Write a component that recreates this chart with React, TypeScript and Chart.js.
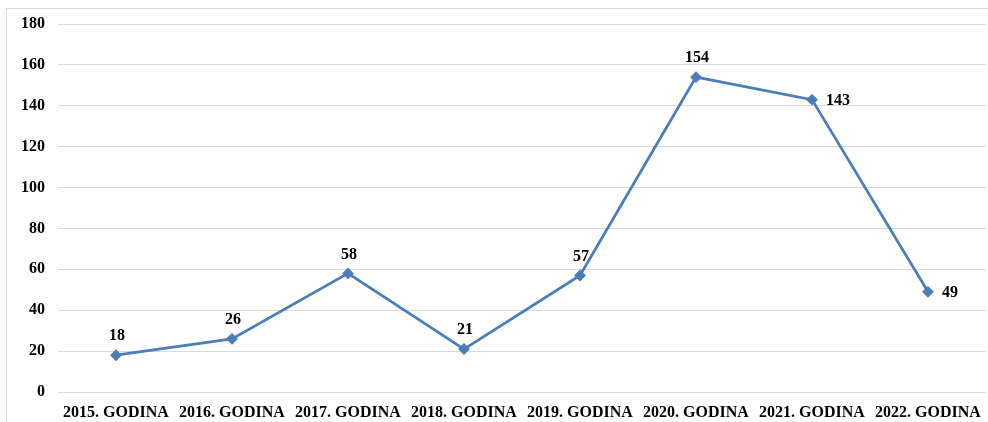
import React, { useEffect, useRef } from "react";
import { Chart, registerables } from "chart.js";

Chart.register(...registerables);

const categories = [
  "2015. GODINA",
  "2016. GODINA",
  "2017. GODINA",
  "2018. GODINA",
  "2019. GODINA",
  "2020. GODINA",
  "2021. GODINA",
  "2022. GODINA",
];
const values = [18, 26, 58, 21, 57, 154, 143, 49];
const labelSides = ["top", "top", "top", "top", "top", "top", "right", "right"];

const FONT = "'Liberation Serif', 'DejaVu Serif', serif";
const LINE = "#4a7ebb";

const labelPlugin = {
  id: "valueLabels",
  beforeDraw(chart: any) {
    const ctx = chart.ctx;
    ctx.save();
    ctx.strokeStyle = "#d9d9d9";
    ctx.lineWidth = 1;
    ctx.strokeRect(6.5, 8.5, 990, 430);
    ctx.restore();
  },
  afterDatasetsDraw(chart: any) {
    const ctx = chart.ctx;
    const meta = chart.getDatasetMeta(0);
    ctx.save();
    ctx.font = `bold 16px ${FONT}`;
    ctx.fillStyle = "#000";
    ctx.textBaseline = "middle";
    meta.data.forEach((pt: any, i: number) => {
      const v = values[i];
      if (labelSides[i] === "right") {
        ctx.textAlign = "left";
        ctx.fillText(String(v), pt.x + 14, pt.y + 1);
      } else {
        ctx.textAlign = "center";
        ctx.fillText(String(v), pt.x + 1, pt.y - 19);
      }
    });
    ctx.restore();
  },
};

export default function App() {
  const ref = useRef<HTMLCanvasElement | null>(null);
  useEffect(() => {
    if (!ref.current) return;
    const chart = new Chart(ref.current, {
      type: "line",
      data: {
        labels: categories,
        datasets: [
          {
            data: values,
            borderColor: LINE,
            backgroundColor: LINE,
            borderWidth: 2.75,
            pointStyle: "rectRot",
            pointRadius: 4,
            pointBackgroundColor: LINE,
            pointBorderColor: LINE,
            tension: 0,
          },
        ],
      },
      options: {
        responsive: false,
        animation: false,
        layout: { autoPadding: false, padding: { top: 24, right: 2, left: 0, bottom: 0 } },
        plugins: { legend: { display: false }, tooltip: { enabled: false } },
        scales: {
          x: {
            offset: true,
            grid: { display: false, drawTicks: true, tickLength: 11 },
            border: { display: false },
            ticks: {
              color: "#000",
              font: { family: FONT, size: 16, weight: "bold" },
              padding: 0,
              maxRotation: 0,
              autoSkip: false,
            },
            afterFit: (s: any) => {
              s.height = 30;
            },
          },
          y: {
            min: 0,
            max: 180,
            grid: { color: "#d9d9d9", lineWidth: 1, drawTicks: false },
            border: { display: false },
            ticks: {
              stepSize: 20,
              color: "#000",
              font: { family: FONT, size: 16, weight: "bold" },
              padding: 13,
            },
            afterFit: (s: any) => {
              s.width = 58;
            },
          },
        },
      },
      plugins: [labelPlugin],
    });
    return () => chart.destroy();
  }, []);
  return (
    <div style={{ position: "absolute", left: 0, top: 0, width: 988, height: 422, background: "#fff" }}>
      <canvas ref={ref} width={988} height={422} style={{ width: 988, height: 422, display: "block" }} />
    </div>
  );
}
